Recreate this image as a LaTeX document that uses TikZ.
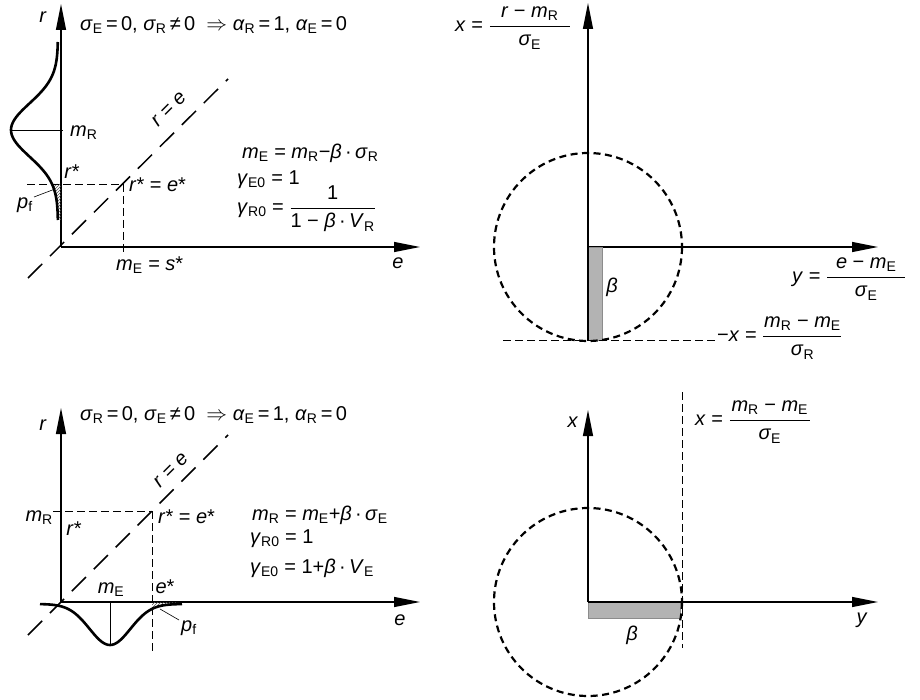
\documentclass[tikz,border=0pt]{standalone}
\usepackage{amsmath}
\usepackage{fontspec}
\setmainfont{Liberation Sans}
\usetikzlibrary{arrows.meta, patterns}
\definecolor{betafill}{HTML}{B3B3B3}
\definecolor{betaedge}{HTML}{8C8C8C}
\definecolor{hatchgray}{HTML}{505050}

\newcommand{\vsub}[2]{\textit{#1}\textsubscript{#2}}
\newcommand{\frc}[2]{$\genfrac{}{}{1.1pt}{0}{\text{#1}}{\text{#2}}$}
\newcommand{\wfrc}[3]{$\genfrac{}{}{1.1pt}{0}{\makebox[#1]{#2}}{\makebox[#1]{#3}}$}

\begin{document}
\begin{tikzpicture}[
    x=1pt, y=-1pt,
    every node/.style={font=\fontsize{20}{24}\selectfont, inner sep=0pt},
    axisline/.style={line width=1.2pt, -{Triangle[length=26pt,width=10pt]}},
    density/.style={line width=2.6pt},
    diag/.style={line width=1.5pt, dash pattern=on 20pt off 11pt},
    guide/.style={line width=0.9pt, dash pattern=on 8pt off 4pt},
    limit/.style={line width=2.2pt, dash pattern=on 7pt off 4.5pt},
    hatch/.style={pattern=north east lines, pattern color=hatchgray},
    betabar/.style={fill=betafill, draw=betaedge, line width=0.8pt},
    lead/.style={line width=0.6pt}
]
\useasboundingbox (0,0) rectangle (920,700);

% top left: sigma_E = 0
\coordinate (a0) at (61,247);
\coordinate (ar) at (61,4);
\coordinate (ae) at (420,247);
\coordinate (ap) at (123,184);
\draw[axisline] (a0) -- (ar);
\draw[axisline] (a0) -- (ae);
\node (arlab) at (43,17) {\textit{r}};
\node (aelab) at (398,263) {\textit{e}};
\node[anchor=west] (ahead) at (80,25)
{\vsub{σ}{E}\,=\,0, \vsub{σ}{R}\,≠\,0 \ $\Rightarrow$\ \vsub{α}{R}\,=\,1, \vsub{α}{E}\,=\,0};

\fill[hatch] plot[domain=184:220, samples=20] ({58-47/exp(((\x-130)^2)/1416)}, \x)
    -- (61,220) -- (61,184) -- cycle;
\draw[density] plot[domain=42:220, samples=80, smooth] ({58-47/exp(((\x-130)^2)/1416)}, \x);
\draw (11,130) -- (63,130);
\node[anchor=west] (amr) at (70,133) {\vsub{m}{R}};

\coordinate (adl) at (28,278);
\coordinate (adu) at (228,79);
\draw[diag] (adl) -- (adu);
\node[rotate=45] (areq) at (169,109) {\textit{r} = \textit{e}};

\draw[guide] (27,184) -- (ap);
\draw[guide] (ap) -- (123,252);
\node (arst) at (72,172) {\textit{r}*};
\node[anchor=west] (apt) at (129,185) {\textit{r}* = \textit{e}*};
\node[anchor=west] (ame) at (116,265) {\vsub{m}{E} = \textit{s}*};

\node (apf) at (25,205) {\vsub{p}{f}};
\coordinate (ahf) at (55,189);
\draw[lead] (34,197) -- (ahf);

\node[anchor=west] (aeq1) at (242,153) {\vsub{m}{E} = \vsub{m}{R}−\textit{β}\,·\,\vsub{σ}{R}};
\node[anchor=west] (aeq2) at (237,180) {\vsub{γ}{E0} = 1};
\node[anchor=west] (aeq3) at (237,209) {\vsub{γ}{R0} = \frc{1}{1 − \textit{β}\,·\,\vsub{V}{R}}};

% top right: standard space
\coordinate (b0) at (588,247);
\coordinate (bx) at (588,3);
\coordinate (by) at (878,247);
\draw[axisline] (b0) -- (bx);
\draw[axisline] (b0) -- (by);
\filldraw[betabar] (588,247) rectangle (602,340);
\draw[line width=2pt] (588,247) -- (588,340);
\draw[limit] (b0) circle[radius=94];
\draw[guide] (503,340) -- (716,340);
\node (bbeta) at (612,287) {\textit{β}};
\node[anchor=west] (bxlab) at (455,28) {\textit{x} = \wfrc{80pt}{\textit{r} − \vsub{m}{R}}{\vsub{σ}{E}}};
\node[anchor=west] (bylab) at (792,279) {\textit{y} = \wfrc{78pt}{\textit{e} − \vsub{m}{E}}{\vsub{σ}{E}}};
\node[anchor=west] (bmx) at (717,338) {−\textit{x} = \wfrc{78pt}{\vsub{m}{R} − \vsub{m}{E}}{\vsub{σ}{R}}};

% bottom left: sigma_R = 0
\coordinate (c0) at (61,602);
\coordinate (cr) at (61,408);
\coordinate (ce) at (420,602);
\coordinate (cp) at (152,511);
\draw[axisline] (c0) -- (cr);
\draw[axisline] (c0) -- (ce);
\node (crlab) at (43,425) {\textit{r}};
\node (celab) at (400,620) {\textit{e}};
\node[anchor=west] (chead) at (80,415)
{\vsub{σ}{R}\,=\,0, \vsub{σ}{E}\,≠\,0 \ $\Rightarrow$\ \vsub{α}{E}\,=\,1, \vsub{α}{R}\,=\,0};

\fill[hatch] plot[domain=152:178, samples=20] (\x, {604+41/exp(((\x-110)^2)/832)})
    -- (178,602) -- (152,602) -- cycle;
\draw[density] plot[domain=40:182, samples=80, smooth] (\x, {604+41/exp(((\x-110)^2)/832)});
\draw (110,602) -- (110,645);
\node (cme) at (111,590) {\vsub{m}{E}};
\node (cest) at (165,587) {\textit{e}*};

\coordinate (cdl) at (28,635);
\coordinate (cdu) at (228,435);
\draw[diag] (cdl) -- (cdu);
\node[rotate=45] (creq) at (171,470) {\textit{r} = \textit{e}};

\draw[guide] (53,511) -- (cp);
\draw[guide] (cp) -- (152,652);
\node[anchor=east] (cmr) at (53,518) {\vsub{m}{R}};
\node (crst) at (74,529) {\textit{r}*};
\node[anchor=west] (cpt) at (158,517) {\textit{r}* = \textit{e}*};

\node (cpf) at (189,628) {\vsub{p}{f}};
\coordinate (chf) at (160,609);
\draw[lead] (chf) -- (179,620);

\node[anchor=west] (ceq1) at (252,515) {\vsub{m}{R} = \vsub{m}{E}+\textit{β}\,·\,\vsub{σ}{E}};
\node[anchor=west] (ceq2) at (250,539) {\vsub{γ}{R0} = 1};
\node[anchor=west] (ceq3) at (250,568) {\vsub{γ}{E0} = 1+\textit{β}\,·\,\vsub{V}{E}};

% bottom right: standard space
\coordinate (d0) at (588,602);
\coordinate (dx) at (588,410);
\coordinate (dy) at (878,602);
\filldraw[betabar] (588,602) rectangle (680,618);
\draw[axisline] (d0) -- (dx);
\draw[axisline] (d0) -- (dy);
\draw[limit] (d0) circle[radius=94];
\draw[guide] (682,392) -- (682,648);
\node (dxlab) at (573,422) {\textit{x}};
\node (dylab) at (862,620) {\textit{y}};
\node (dbeta) at (632,635) {\textit{β}};
\node[anchor=west] (dlim) at (695,422) {\textit{x} = \wfrc{80pt}{\vsub{m}{R} − \vsub{m}{E}}{\vsub{σ}{E}}};

\end{tikzpicture}
\end{document}
